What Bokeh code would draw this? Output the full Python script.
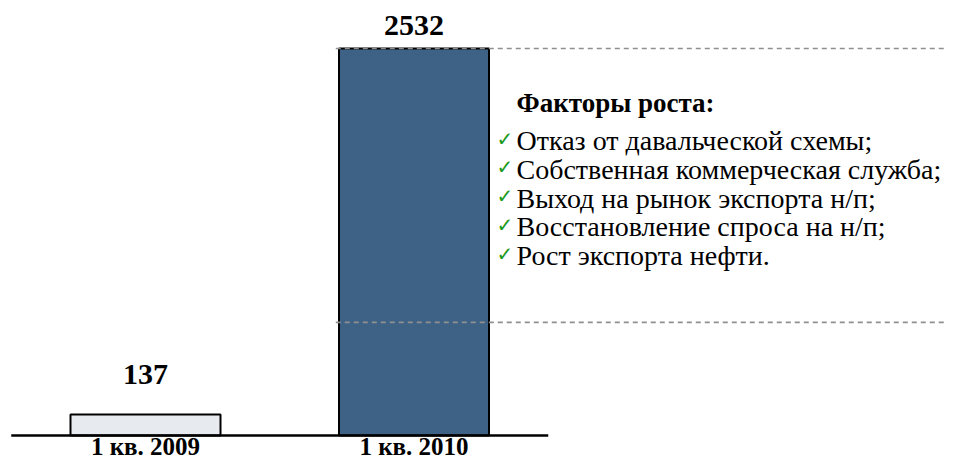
from bokeh.plotting import figure
from bokeh.models import Range1d, ColumnDataSource
from bokeh.core.properties import value
from bokeh.embed import file_html
from bokeh.resources import INLINE

# ---- data ----
categories = ["1 кв. 2009", "1 кв. 2010"]
values = [137, 2532]
guide_levels = [2532, 740]
heading = "Факторы роста:"
factors = [
    "Отказ от давальческой схемы;",
    "Собственная коммерческая служба;",
    "Выход на рынок экспорта н/п;",
    "Восстановление спроса на н/п;",
    "Рост экспорта нефти.",
]

# ---- layout / style ----
W, H = 945, 459
base_px = 435          # canvas y of the baseline
x0_px, step_px = 145.0, 268.5
ky = 387.0 / 2532.0    # pixels per value unit
TXT_SHIFT = 10         # svg baseline correction (px)

def X(px):
    return (px - x0_px) / step_px

def Y(py):
    return (base_px - (py - TXT_SHIFT)) / ky

bar_colors = ["#E7EAEF", "#3E6286"]
bar_width = 150 / step_px
SERIF = "Liberation Serif"

p = figure(width=W, height=H, output_backend="svg", toolbar_location=None,
           x_range=Range1d(X(0), X(W)),
           y_range=Range1d(-(H - base_px) / ky, base_px / ky),
           min_border=0, min_border_left=0, min_border_right=0,
           min_border_top=0, min_border_bottom=0)
p.xaxis.visible = False
p.yaxis.visible = False
p.grid.visible = False
p.outline_line_color = None
p.background_fill_color = "white"
p.border_fill_color = "white"

xs = list(range(len(categories)))
src = ColumnDataSource(dict(x=xs, top=values, color=bar_colors,
                            label=[str(v) for v in values], cat=categories,
                            voff=[-30 - TXT_SHIFT, -13 - TXT_SHIFT]))

p.vbar(x="x", top="top", bottom=0, width=bar_width, source=src,
       fill_color="color", line_color="black", line_width=2)

# dashed guide lines
gx0 = xs[-1] - bar_width / 2 - 0.012
p.segment(x0=[gx0] * len(guide_levels), y0=guide_levels,
          x1=[X(W + 20)] * len(guide_levels), y1=guide_levels,
          line_color="#8F8F8F", line_width=1.6, line_dash="5 4")

# baseline
p.segment(x0=[-0.5], y0=[0], x1=[len(categories) - 0.5], y1=[0],
          line_color="black", line_width=2.5)

# value labels
p.text(x="x", y="top", text="label", source=src, y_offset="voff",
       text_align="center", text_baseline="alphabetic",
       text_font=value(SERIF), text_font_style="bold",
       text_font_size="30px", text_color="black")

# category labels
p.text(x="x", y=0, text="cat", source=src, y_offset=21 - TXT_SHIFT,
       text_align="center", text_baseline="alphabetic",
       text_font=value(SERIF), text_font_style="bold",
       text_font_size="25px", text_color="black")

# heading
p.text(x=[X(516)], y=[Y(112)], text=[heading],
       text_align="left", text_baseline="alphabetic",
       text_font=value(SERIF), text_font_style="bold",
       text_font_size="27px", text_color="black")

# factor list
line_py = [150 + i * 28.75 for i in range(len(factors))]
p.text(x=[X(496)] * len(factors), y=[Y(py - 2) for py in line_py],
       text=["\u2713"] * len(factors),
       text_align="left", text_baseline="alphabetic",
       text_font=value("DejaVu Sans"), text_font_size="20px",
       text_color="#1E9A1E")
p.text(x=[X(516)] * len(factors), y=[Y(py) for py in line_py],
       text=factors, text_align="left", text_baseline="alphabetic",
       text_font=value(SERIF), text_font_size="28px", text_color="black")

open("out.html", "w").write(file_html(p, INLINE))
